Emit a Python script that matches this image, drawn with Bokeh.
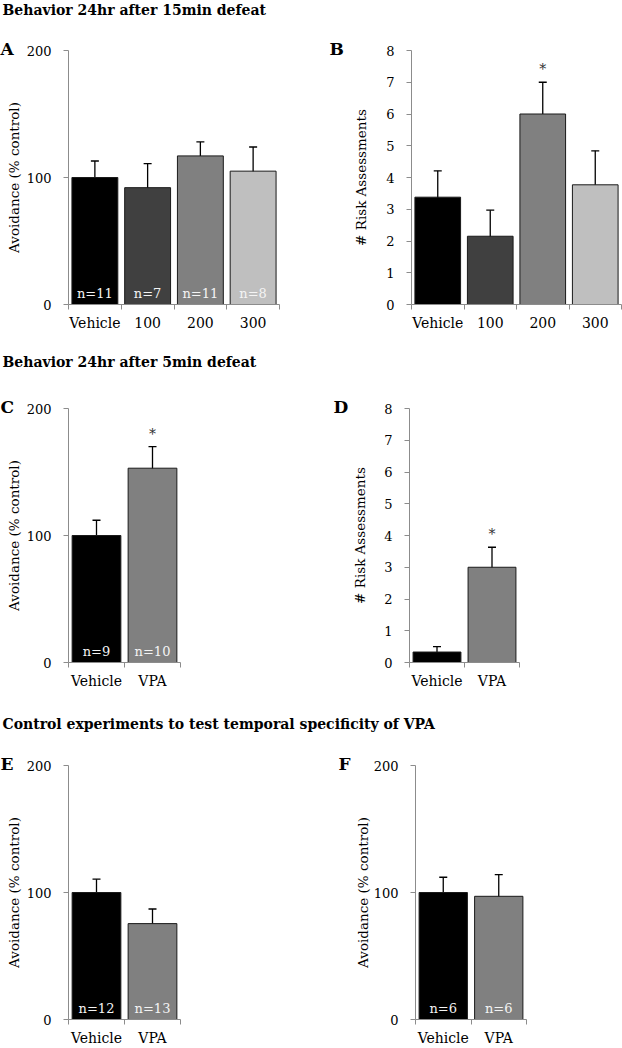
from bokeh.plotting import figure
from bokeh.layouts import column, row
from bokeh.models import ColumnDataSource, Whisker, TeeHead, FixedTicker, Range1d
from bokeh.core.properties import value
from bokeh.embed import file_html
from bokeh.resources import INLINE

FONT = "DejaVu Serif"

# ---------------- data ----------------
dose_labels = ["Vehicle", "100", "200", "300"]
a_mean = [100, 92, 117, 105]
a_err = [13, 19, 11, 19]
a_n = ["n=11", "n=7", "n=11", "n=8"]

b_mean = [3.38, 2.15, 6.0, 3.77]
b_err = [0.83, 0.82, 1.0, 1.07]
b_sig = [False, False, True, False]

vpa_labels = ["Vehicle", "VPA"]
c_mean = [100, 153]
c_err = [12, 17]
c_n = ["n=9", "n=10"]
c_sig = [False, True]

d_mean = [0.33, 3.0]
d_err = [0.17, 0.63]
d_sig = [False, True]

e_mean = [100, 75.5]
e_err = [10.5, 11.5]
e_n = ["n=12", "n=13"]

f_mean = [100, 97]
f_err = [12, 17]
f_n = ["n=6", "n=6"]

avoid_ticks = [0, 100, 200]
risk_ticks = [0, 1, 2, 3, 4, 5, 6, 7, 8]

headers = ["Behavior 24hr after 15min defeat",
           "Behavior 24hr after 5min defeat",
           "Control experiments to test temporal specificity of VPA"]

dose_colors = ["#000000", "#404040", "#808080", "#bfbfbf"]
vpa_colors = ["#000000", "#808080"]

AXIS_GREY = "#8c8c8c"


def panel(labels, mean, err, colors, ymax, yticks, ytitle, letter, ns=None, sig=None,
          width=311, height=322, bl=68, br=32, bt=30, bb=38,
          letter_x=0, title_standoff=2):
    k = len(labels)
    xs = [i + 0.5 for i in range(k)]
    upper = [m + e for m, e in zip(mean, err)]
    lower = [m - e for m, e in zip(mean, err)]
    p = figure(width=width, height=height, x_range=Range1d(0, k), y_range=Range1d(0, ymax),
               output_backend="svg", toolbar_location=None,
               min_border_left=bl, min_border_right=br, min_border_top=bt, min_border_bottom=bb)
    p.outline_line_color = None
    p.grid.visible = False

    src = ColumnDataSource(dict(x=xs, top=mean, upper=upper, lower=lower, color=colors))
    p.vbar(x="x", top="top", bottom=0, width=0.87, fill_color="color",
           line_color="#1a1a1a", line_width=1, source=src)
    w = Whisker(base="x", upper="upper", lower="lower", source=src, dimension="height",
                line_color="black", line_width=1.3,
                upper_head=TeeHead(size=8, line_color="black", line_width=1.3),
                lower_head=TeeHead(size=8, line_color="black", line_width=1.3))
    p.add_layout(w)

    if ns is not None:
        p.text(x=xs, y=[0] * k, text=ns, y_offset=-11, text_align="center",
               text_baseline="middle", text_color="#f4f4f4",
               text_font=value(FONT), text_font_size="13px")

    if sig is not None:
        sx = [x for x, s in zip(xs, sig) if s]
        sy = [u for u, s in zip(upper, sig) if s]
        p.text(x=sx, y=sy, text=["*"] * len(sx), y_offset=-13, text_align="center",
               text_baseline="middle", text_color="#333333",
               text_font=value(FONT), text_font_size="14px")

    # x axis
    xa = p.xaxis[0]
    xa.ticker = FixedTicker(ticks=xs, minor_ticks=list(range(k + 1)))
    xa.major_label_overrides = {x: l for x, l in zip(xs, labels)}
    xa.axis_line_color = AXIS_GREY
    xa.major_tick_out = 0
    xa.major_tick_in = 0
    xa.major_tick_line_color = None
    xa.minor_tick_out = 5
    xa.minor_tick_in = 0
    xa.minor_tick_line_color = AXIS_GREY
    xa.major_label_standoff = 5
    xa.major_label_text_font = FONT
    xa.major_label_text_font_size = "14px"
    xa.major_label_text_color = "black"

    # y axis
    ya = p.yaxis[0]
    ya.ticker = FixedTicker(ticks=yticks, minor_ticks=[])
    ya.axis_line_color = AXIS_GREY
    ya.major_tick_out = 5
    ya.major_tick_in = 0
    ya.major_tick_line_color = AXIS_GREY
    ya.minor_tick_line_color = None
    ya.major_label_standoff = 12
    ya.major_label_text_font = FONT
    ya.major_label_text_font_size = "13px"
    ya.major_label_text_color = "black"
    ya.axis_label = ytitle
    ya.axis_label_text_font = FONT
    ya.axis_label_text_font_size = "13.5px"
    ya.axis_label_text_font_style = "normal"
    ya.axis_label_text_color = "black"
    ya.axis_label_standoff = title_standoff

    # panel letter
    p.title.text = letter
    p.title.align = "left"
    p.title.offset = letter_x - bl
    p.title.standoff = -16
    p.title.text_font = FONT
    p.title.text_font_style = "bold"
    p.title.text_font_size = "17px"
    p.title.text_color = "black"
    return p


def header(text, height, cy):
    p = figure(width=622, height=height, x_range=Range1d(0, 1), y_range=Range1d(0, height),
               output_backend="svg", toolbar_location=None, min_border=0,
               x_axis_location=None, y_axis_location=None)
    p.outline_line_color = None
    p.grid.visible = False
    p.text(x=[0], y=[height - cy], text=[text], x_offset=2, text_font=value(FONT),
           text_font_style="bold", text_font_size="14px", text_baseline="middle",
           text_align="left", text_color="black")
    return p


h1 = header(headers[0], 20, 9)
pA = panel(dose_labels, a_mean, a_err, dose_colors, 200, avoid_ticks, "Avoidance (% control)", "A",
           ns=a_n, height=322, bl=68, br=32, bt=30, bb=38, letter_x=0, title_standoff=2)
pB = panel(dose_labels, b_mean, b_err, dose_colors, 8, risk_ticks, "# Risk Assessments", "B",
           sig=b_sig, height=322, bl=100, br=1, bt=30, bb=38, letter_x=18, title_standoff=14)

h2 = header(headers[1], 30, 19)
pC = panel(vpa_labels, c_mean, c_err, vpa_colors, 200, avoid_ticks, "Avoidance (% control)", "C",
           ns=c_n, sig=c_sig, height=328, bl=68, br=131, bt=36, bb=38, letter_x=0, title_standoff=2)
pD = panel(vpa_labels, d_mean, d_err, vpa_colors, 8, risk_ticks, "# Risk Assessments", "D",
           sig=d_sig, height=328, bl=98, br=103, bt=36, bb=38, letter_x=22, title_standoff=13)

h3 = header(headers[2], 33, 23)
pE = panel(vpa_labels, e_mean, e_err, vpa_colors, 200, avoid_ticks, "Avoidance (% control)", "E",
           ns=e_n, height=315, bl=68, br=131, bt=32, bb=29, letter_x=0, title_standoff=2)
pF = panel(vpa_labels, f_mean, f_err, vpa_colors, 200, avoid_ticks, "Avoidance (% control)", "F",
           ns=f_n, height=315, bl=104, br=96, bt=32, bb=29, letter_x=27, title_standoff=0)

layout = column(h1, row(pA, pB), h2, row(pC, pD), h3, row(pE, pF))

open("out.html", "w").write(file_html(layout, INLINE))
